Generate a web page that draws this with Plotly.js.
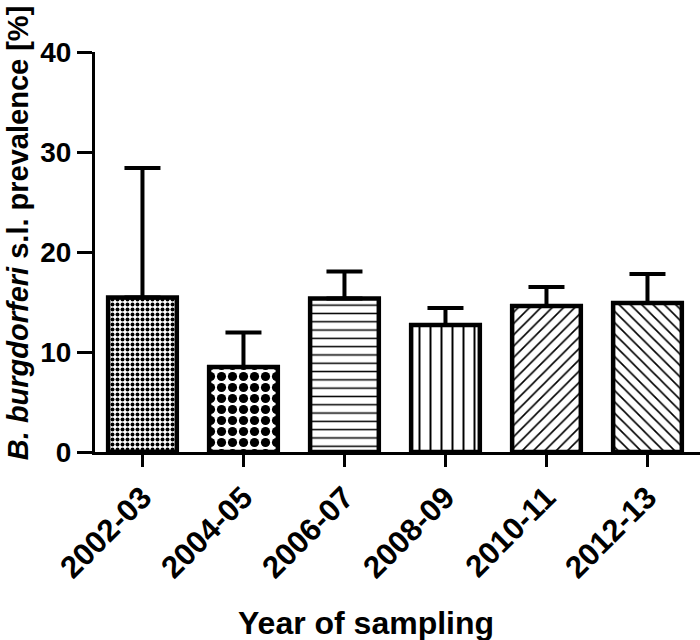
<!DOCTYPE html>
<html>
<head>
<meta charset="utf-8">
<script src="https://cdn.plot.ly/plotly-3.0.1.min.js"></script>
<style>
  html, body { margin: 0; padding: 0; background: #fff; }
  #chart { width: 700px; height: 640px; }
</style>
</head>
<body>
<div id="chart"></div>
<script>
// Data
const categories = ['2002-03', '2004-05', '2006-07', '2008-09', '2010-11', '2012-13'];
const prevalence = [15.45, 8.5, 15.35, 12.7, 14.6, 14.9];
const errorUpper = [12.95, 3.45, 2.7, 1.7, 1.9, 2.9];
const yTicks = [0, 10, 20, 30, 40];

// Fill patterns per bar (style only)
const patternShapes = ['.', '.', '-', '|', '/', '\\'];
const patternSizes = [5, 11, 8.3, 11, 8, 8];
const patternSolidity = [0.5, 0.55, 0.18, 0.18, 0.2, 0.2];

const fontFamily = '"Liberation Sans", Arial, Helvetica, sans-serif';

const trace = {
  type: 'bar',
  x: categories,
  y: prevalence,
  width: 0.68,
  marker: {
    color: 'white',
    line: { color: 'black', width: 4.5 },
    pattern: {
      shape: patternShapes,
      size: patternSizes,
      solidity: patternSolidity,
      fgcolor: 'black',
      bgcolor: 'white',
      fillmode: 'replace'
    }
  },
  error_y: {
    type: 'data',
    symmetric: false,
    array: errorUpper,
    arrayminus: prevalence.map(() => 0),
    color: 'black',
    thickness: 4,
    width: 18
  },
  hoverinfo: 'skip'
};

const layout = {
  width: 700,
  height: 640,
  margin: { l: 95, r: 0, t: 52, b: 188 },
  paper_bgcolor: 'white',
  plot_bgcolor: 'white',
  showlegend: false,
  font: { family: fontFamily, color: 'black', size: 30, weight: 'bold' },
  xaxis: {
    type: 'category',
    range: [-0.47, 5.52],
    showline: true,
    linecolor: 'black',
    linewidth: 3,
    showgrid: false,
    zeroline: false,
    ticks: 'outside',
    ticklen: 12,
    tickwidth: 3,
    tickcolor: 'black',
    tickangle: -45,
    tickfont: { family: fontFamily, size: 31, color: 'black', weight: 'bold' }
  },
  yaxis: {
    range: [0, 40],
    tickvals: yTicks,
    ticktext: yTicks.map(String),
    showline: true,
    linecolor: 'black',
    linewidth: 3,
    showgrid: false,
    zeroline: false,
    ticks: 'outside',
    ticklen: 15,
    tickwidth: 3,
    tickcolor: 'black',
    tickfont: { family: fontFamily, size: 28, color: 'black', weight: 'bold' }
  },
  annotations: [
    {
      text: 'Year of sampling',
      xref: 'paper', yref: 'paper',
      x: 0.448, y: -0.4275,
      xanchor: 'center', yanchor: 'middle',
      showarrow: false,
      font: { family: fontFamily, size: 32, color: 'black', weight: 'bold' }
    },
    {
      text: '<i>B. burgdorferi</i> s.l. prevalence [%]',
      xref: 'paper', yref: 'paper',
      x: -0.127, y: 0.5475,
      xanchor: 'center', yanchor: 'middle',
      textangle: -90,
      showarrow: false,
      font: { family: fontFamily, size: 29, color: 'black', weight: 'bold' }
    }
  ]
};

Plotly.newPlot('chart', [trace], layout, { staticPlot: true, displayModeBar: false });
</script>
</body>
</html>
